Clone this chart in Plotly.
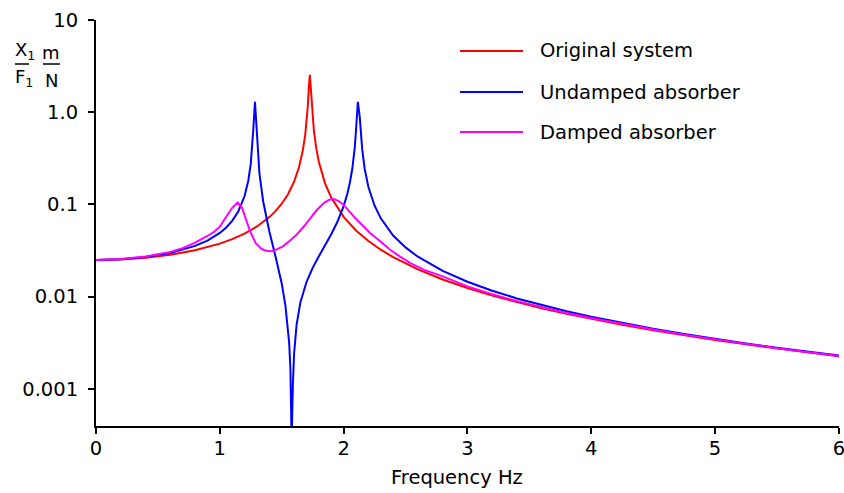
import plotly.graph_objects as go

# ---- data ----
red_freq = [0, 0.2, 0.4, 0.6, 0.8, 1.0, 1.1, 1.2, 1.3, 1.4, 1.45, 1.5, 1.55, 1.6, 1.64, 1.67,
            1.69, 1.70, 1.71, 1.72, 1.727, 1.735, 1.745, 1.76, 1.78, 1.8, 1.85, 1.9, 2.0,
            2.1, 2.2, 2.3, 2.4, 2.5, 2.6, 2.8, 3.0, 3.2, 3.4, 3.6, 3.8, 4.0, 4.25, 4.5,
            4.75, 5.0, 5.25, 5.5, 5.75, 6.0]
red_amp = [0.025, 0.02534, 0.02642, 0.02843, 0.03183, 0.03761, 0.04207, 0.04834, 0.05769,
           0.07293, 0.0847, 0.1018, 0.1285, 0.1766, 0.2546, 0.385, 0.574, 0.768, 1.136, 1.94,
           2.55, 1.83, 1.075, 0.627, 0.401, 0.2897, 0.1695, 0.1188, 0.0733, 0.0522, 0.0401,
           0.0323, 0.02684, 0.02282, 0.01974, 0.01535, 0.01239, 0.01027, 0.00869, 0.00747,
           0.006508, 0.005728, 0.004944, 0.004318, 0.003808, 0.003387, 0.003033, 0.002734,
           0.002479, 0.002258]

blue_freq = [0, 0.2, 0.4, 0.6, 0.8, 0.9, 1.0, 1.05, 1.1, 1.15, 1.2, 1.23, 1.25, 1.26, 1.27,
             1.284, 1.30, 1.32, 1.35, 1.4, 1.45, 1.5, 1.53, 1.55, 1.56, 1.57, 1.58, 1.59,
             1.60, 1.62, 1.65, 1.7, 1.75, 1.8, 1.85, 1.9, 1.95, 2.0, 2.03, 2.05, 2.07, 2.09,
             2.10, 2.115, 2.13, 2.15, 2.17, 2.2, 2.25, 2.3, 2.4, 2.5, 2.6, 2.8, 3.0, 3.2,
             3.4, 3.6, 3.8, 4.0, 4.25, 4.5, 4.75, 5.0, 5.25, 5.5, 5.75, 6.0]
blue_amp = [0.025, 0.0254, 0.0269, 0.0298, 0.0355, 0.0406, 0.0491, 0.056, 0.0664, 0.0845,
            0.1235, 0.181, 0.2755, 0.382, 0.639, 1.3, 0.52, 0.218, 0.1085, 0.0509, 0.0273,
            0.0139, 0.0080, 0.0047, 0.00316, 0.00168, 0.00027, 0.0011, 0.00242, 0.00495,
            0.00857, 0.0144, 0.0205, 0.0274, 0.0359, 0.0475, 0.0649, 0.0961, 0.131, 0.171,
            0.244, 0.416, 0.639, 1.3, 0.9, 0.398, 0.2436, 0.1548, 0.0969, 0.0708, 0.0461,
            0.0342, 0.0271, 0.0190, 0.0145, 0.01158, 0.00956, 0.00807, 0.00694, 0.00604,
            0.00517, 0.00448, 0.00393, 0.00347, 0.0031, 0.00279, 0.00252, 0.00229]

mag_freq = [0, 0.2, 0.4, 0.5, 0.6, 0.7, 0.8, 0.9, 0.95, 1.0, 1.05, 1.1, 1.144, 1.18, 1.21,
            1.24, 1.29, 1.33, 1.36, 1.40, 1.43, 1.47, 1.51, 1.56, 1.62, 1.68, 1.73, 1.78,
            1.84, 1.88, 1.917, 1.96, 2.0, 2.05, 2.106, 2.16, 2.213, 2.3, 2.375, 2.45, 2.536,
            2.65, 2.8, 3.0, 3.2, 3.4, 3.6, 3.8, 4.0, 4.25, 4.5, 4.75, 5.0, 5.25, 5.5, 5.75, 6.0]
mag_amp = [0.025, 0.0256, 0.0272, 0.0289, 0.0306, 0.0336, 0.0385, 0.0455, 0.0500, 0.0575,
           0.072, 0.092, 0.105, 0.092, 0.070, 0.053, 0.038, 0.0335, 0.0318, 0.0310, 0.0312,
           0.0330, 0.0351, 0.040, 0.047, 0.058, 0.0713, 0.086, 0.1035, 0.112, 0.115, 0.109,
           0.099, 0.083, 0.0683, 0.058, 0.049, 0.0393, 0.0323, 0.0275, 0.0232, 0.0195,
           0.0166, 0.0129, 0.0106, 0.00893, 0.00765, 0.00665, 0.00585, 0.00505, 0.00440,
           0.00387, 0.00343, 0.00307, 0.00276, 0.00250, 0.00227]

series_names = ["Original system", "Undamped absorber", "Damped absorber"]
series_colors = ["#ff0000", "#0000ff", "#ff00ff"]

x_ticks = [0, 1, 2, 3, 4, 5, 6]
y_ticks = [0.001, 0.01, 0.1, 1.0, 10]
y_tick_text = ["0.001", "0.01", "0.1", "1.0", "10"]

Y_LOG_MIN = -3.404
Y_LOG_MAX = 1.002

FONT = "DejaVu Sans"
FS = 19.5

fig = go.Figure()
for fx, fy, name, col in zip([red_freq, blue_freq, mag_freq], [red_amp, blue_amp, mag_amp],
                             series_names, series_colors):
    fig.add_trace(go.Scatter(x=fx, y=fy, mode="lines", name=name,
                             line=dict(color=col, width=2), showlegend=False))

# plot-area geometry (pixels)
L, R, T, B = 96, 5, 20, 67
W, H = 844, 493
pw, ph = W - L - R, H - T - B


def px(xp):
    return (xp - L) / pw


def py(yp):
    return (H - B - yp) / ph


ann = []
shapes = []
# manual legend
leg_y = [51, 92, 132]
for name, col, yy in zip(series_names, series_colors, leg_y):
    shapes.append(dict(type="line", xref="paper", yref="paper", x0=px(460), x1=px(523),
                       y0=py(yy), y1=py(yy), line=dict(color=col, width=2)))
    ann.append(dict(text=name, xref="paper", yref="paper", x=px(538), y=py(yy),
                    xanchor="left", yanchor="middle", showarrow=False,
                    font=dict(family=FONT, size=FS, color="#000000")))

# y-axis unit label  X1/F1  m/N
lab_font = dict(family=FONT, size=18, color="#000000")
ann += [
    dict(text="X<sub>1</sub>", xref="paper", yref="paper", x=px(13), y=py(51),
         xanchor="left", yanchor="middle", showarrow=False, font=lab_font),
    dict(text="F<sub>1</sub>", xref="paper", yref="paper", x=px(13), y=py(78),
         xanchor="left", yanchor="middle", showarrow=False, font=lab_font),
    dict(text="m", xref="paper", yref="paper", x=px(51), y=py(53),
         xanchor="center", yanchor="middle", showarrow=False, font=lab_font),
    dict(text="N", xref="paper", yref="paper", x=px(51), y=py(80),
         xanchor="center", yanchor="middle", showarrow=False, font=lab_font),
    dict(text="Frequency Hz", xref="paper", yref="paper", x=px(457), y=py(477),
         xanchor="center", yanchor="middle", showarrow=False,
         font=dict(family=FONT, size=FS, color="#000000")),
]
shapes += [
    dict(type="line", xref="paper", yref="paper", x0=px(15), x1=px(29), y0=py(64), y1=py(64),
         line=dict(color="#000000", width=1.5)),
    dict(type="line", xref="paper", yref="paper", x0=px(43), x1=px(60), y0=py(64), y1=py(64),
         line=dict(color="#000000", width=1.5)),
]

fig.update_layout(
    width=W, height=H,
    margin=dict(l=L, r=R, t=T, b=B, pad=0, autoexpand=False),
    paper_bgcolor="white", plot_bgcolor="white",
    font=dict(family=FONT, size=FS, color="#000000"),
    annotations=ann, shapes=shapes,
)
fig.update_xaxes(range=[0, 6.001], tickvals=x_ticks, ticktext=[str(v) for v in x_ticks],
                 showline=True, linecolor="#000000", linewidth=2, ticks="outside",
                 ticklen=6, tickwidth=2, tickcolor="#000000", showgrid=False,
                 zeroline=False, ticklabeloverflow="allow", ticklabelstandoff=-2,
                 automargin=False,
                 tickfont=dict(family=FONT, size=FS, color="#000000"))
fig.update_yaxes(type="log", range=[Y_LOG_MIN, Y_LOG_MAX], tickvals=y_ticks,
                 ticktext=y_tick_text, showline=True, linecolor="#000000", linewidth=2,
                 ticks="outside", ticklen=6, tickwidth=2, tickcolor="#000000",
                 showgrid=False, zeroline=False, ticklabelstandoff=6, automargin=False,
                 tickfont=dict(family=FONT, size=FS, color="#000000"))

fig.write_html("out.html", config={"displayModeBar": False},
               post_script="document.body.style.margin='0px';"
                           "document.body.style.overflow='hidden';")
